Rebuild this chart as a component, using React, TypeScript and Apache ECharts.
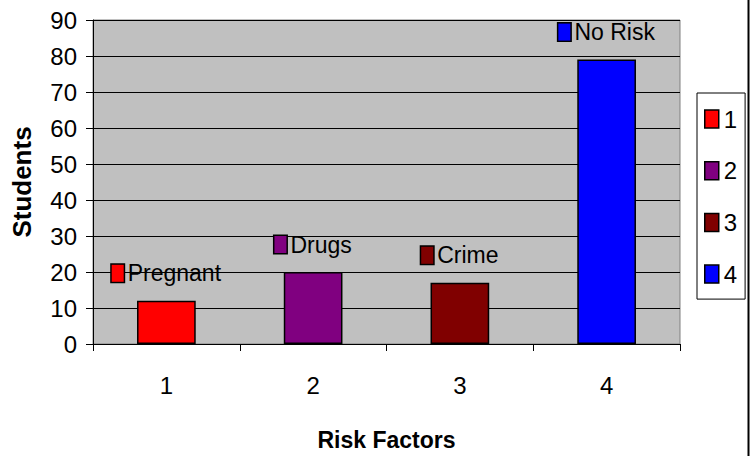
import React, { useEffect, useRef } from "react";
import * as echarts from "echarts";

const categories = ["1", "2", "3", "4"];
const seriesNames = ["1", "2", "3", "4"];
const values = [12, 20, 17, 79];
const barLabels = ["Pregnant", "Drugs", "Crime", "No Risk"];
const colors = ["#FF0000", "#800080", "#800000", "#0000FF"];
const yTicks = { min: 0, max: 90, interval: 10 };

const FONT = "'Liberation Sans', Arial, Helvetica, sans-serif";

export default function App() {
  const ref = useRef<HTMLDivElement>(null);
  useEffect(() => {
    if (!ref.current) return;
    const chart = echarts.init(ref.current, undefined, { renderer: "svg" });
    const series = seriesNames.map((name, i) => ({
      name,
      type: "bar",
      stack: "all",
      barWidth: "40%",
      data: categories.map((_, j) => (j === i ? values[i] : "-")),
      itemStyle: { color: colors[i], borderColor: "#000", borderWidth: 1.5 },
      label: {
        show: true,
        position: "top",
        distance: 16,
        formatter: `{k|}{t|${barLabels[i]}}`,
        rich: {
          k: {
            width: 12,
            height: 17,
            backgroundColor: colors[i],
            borderColor: "#000",
            borderWidth: 1.5,
          },
          t: {
            fontFamily: FONT,
            fontSize: 23,
            color: "#000",
            padding: [0, 0, 0, 4],
          },
        },
      },
    }));
    chart.setOption({
      animation: false,
      backgroundColor: "#fff",
      textStyle: { fontFamily: FONT },
      grid: {
        left: 93,
        top: 20,
        right: 70,
        bottom: 105,
        show: true,
        backgroundColor: "#C0C0C0",
        borderColor: "#808080",
        borderWidth: 1,
      },
      legend: {
        orient: "vertical",
        left: 697,
        top: 93,
        data: seriesNames,
        icon: "rect",
        itemWidth: 14,
        itemHeight: 18,
        itemGap: 27.7,
        padding: [14, 8, 13, 7],
        borderColor: "#000",
        borderWidth: 1,
        backgroundColor: "#fff",
        itemStyle: { borderColor: "#000", borderWidth: 1.5 },
        textStyle: { fontFamily: FONT, fontSize: 24, color: "#000", lineHeight: 18 },
      },
      xAxis: {
        type: "category",
        data: categories,
        boundaryGap: true,
        name: "Risk Factors",
        nameLocation: "middle",
        nameGap: 84,
        nameTextStyle: { fontFamily: FONT, fontSize: 23, fontWeight: "bold", color: "#000" },
        axisLine: { show: true, lineStyle: { color: "#000", width: 1 } },
        axisTick: { show: true, interval: 0, length: 7, lineStyle: { color: "#000" } },
        axisLabel: { fontFamily: FONT, fontSize: 24, color: "#000", margin: 29 },
        splitLine: { show: false },
      },
      yAxis: {
        type: "value",
        min: yTicks.min,
        max: yTicks.max,
        interval: yTicks.interval,
        name: "Students",
        nameLocation: "middle",
        nameGap: 58,
        nameRotate: 90,
        nameTextStyle: { fontFamily: FONT, fontSize: 26, fontWeight: "bold", color: "#000" },
        axisLine: { show: true, lineStyle: { color: "#000", width: 1 } },
        axisTick: { show: true, length: 7, lineStyle: { color: "#000" } },
        axisLabel: { fontFamily: FONT, fontSize: 24, color: "#000", margin: 16 },
        splitLine: { show: true, lineStyle: { color: "#000", width: 1 } },
      },
      graphic: [
        {
          type: "line",
          shape: { x1: 748.5, y1: 0, x2: 748.5, y2: 456 },
          style: { stroke: "#000", lineWidth: 2 },
        },
      ],
      series,
    });
    return () => chart.dispose();
  }, []);
  return (
    <div
      ref={ref}
      style={{ position: "absolute", left: 0, top: 0, width: 750, height: 456 }}
    />
  );
}
